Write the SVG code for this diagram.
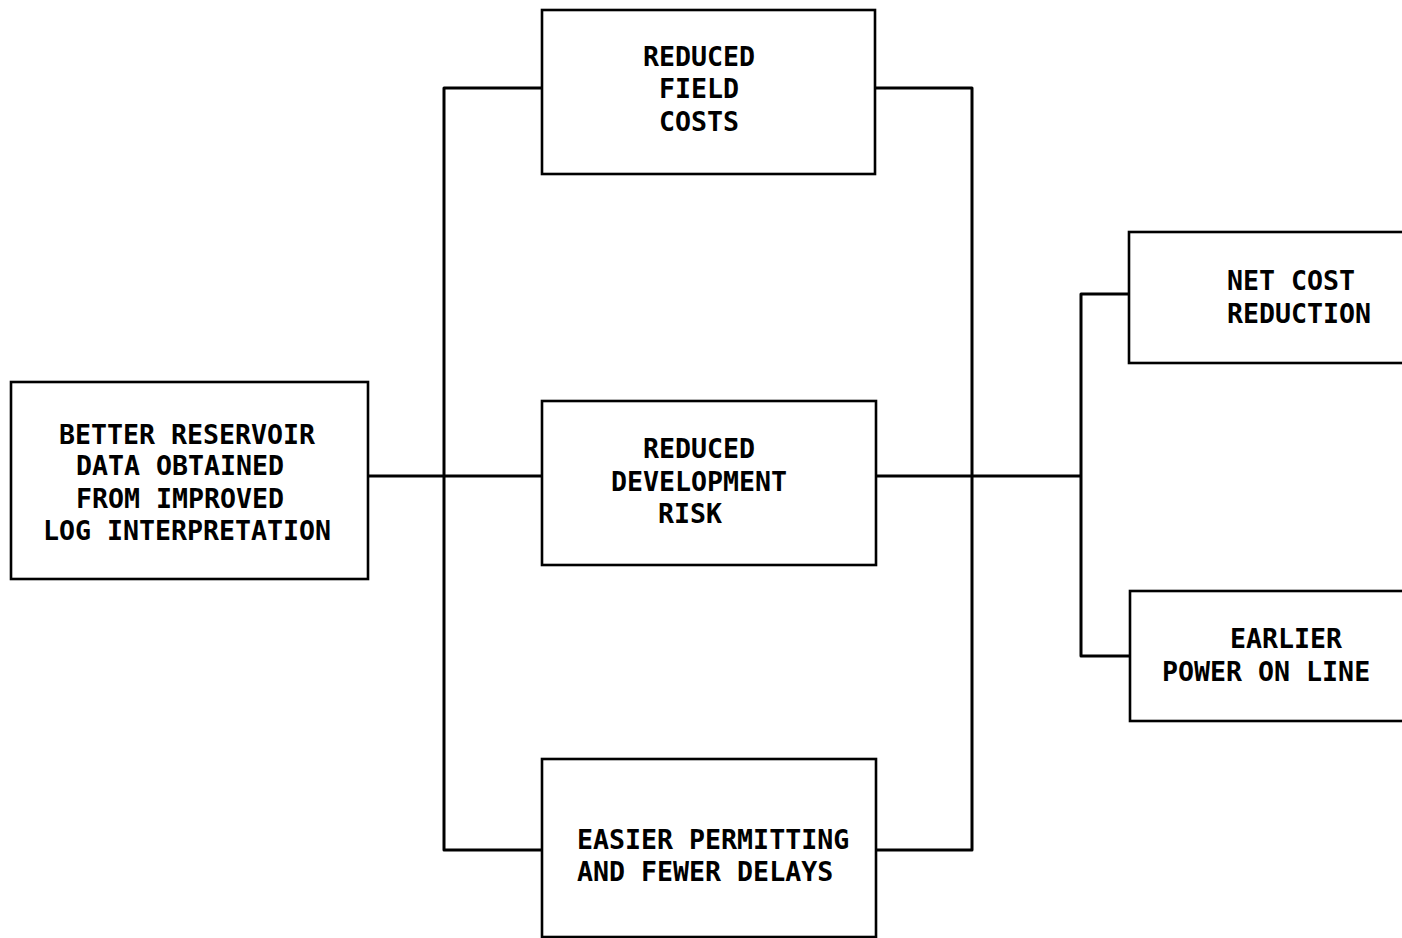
<svg xmlns="http://www.w3.org/2000/svg" width="1402" height="938" viewBox="0 0 1402 938">
<style>
.box{fill:#fff;stroke:#000;stroke-width:2.6}
.ln{fill:none;stroke:#000;stroke-width:3;stroke-linejoin:round}
text{font-family:"DejaVu Sans Mono","Liberation Mono",monospace;font-weight:bold;font-size:26.6px;fill:#000}
.c{text-anchor:middle}
</style>
<rect width="1402" height="938" fill="#fff"/>
<g id="connectors">
<path class="ln" d="M368,476 H542"/>
<path class="ln" d="M542,88 H444 V850 H542"/>
<path class="ln" d="M875,88 H972 V850 H876"/>
<path class="ln" d="M876,476 H1081"/>
<path class="ln" d="M1129,294 H1081 V656 H1130"/>
</g>
<g id="node-better-data">
<rect class="box" x="11" y="382" width="357" height="197"/>
<text class="c" x="187" y="444">BETTER RESERVOIR</text>
<text class="c" x="180" y="475">DATA OBTAINED</text>
<text class="c" x="180" y="508">FROM IMPROVED</text>
<text class="c" x="187" y="540">LOG INTERPRETATION</text>
</g>
<g id="node-field-costs">
<rect class="box" x="542" y="10" width="333" height="164"/>
<text class="c" x="699" y="66">REDUCED</text>
<text class="c" x="699" y="98">FIELD</text>
<text class="c" x="699" y="131">COSTS</text>
</g>
<g id="node-dev-risk">
<rect class="box" x="542" y="401" width="334" height="164"/>
<text class="c" x="699" y="458">REDUCED</text>
<text class="c" x="699" y="491">DEVELOPMENT</text>
<text class="c" x="690" y="523">RISK</text>
</g>
<g id="node-permitting">
<rect class="box" x="542" y="759" width="334" height="178"/>
<text x="577" y="849">EASIER PERMITTING</text>
<text x="577" y="881">AND FEWER DELAYS</text>
</g>
<g id="node-net-cost">
<rect class="box" x="1129" y="232" width="290" height="131"/>
<text x="1227" y="290">NET COST</text>
<text x="1227" y="323">REDUCTION</text>
</g>
<g id="node-earlier-power">
<rect class="box" x="1130" y="591" width="290" height="130"/>
<text x="1230" y="648">EARLIER</text>
<text x="1162" y="681">POWER ON LINE</text>
</g>
</svg>
